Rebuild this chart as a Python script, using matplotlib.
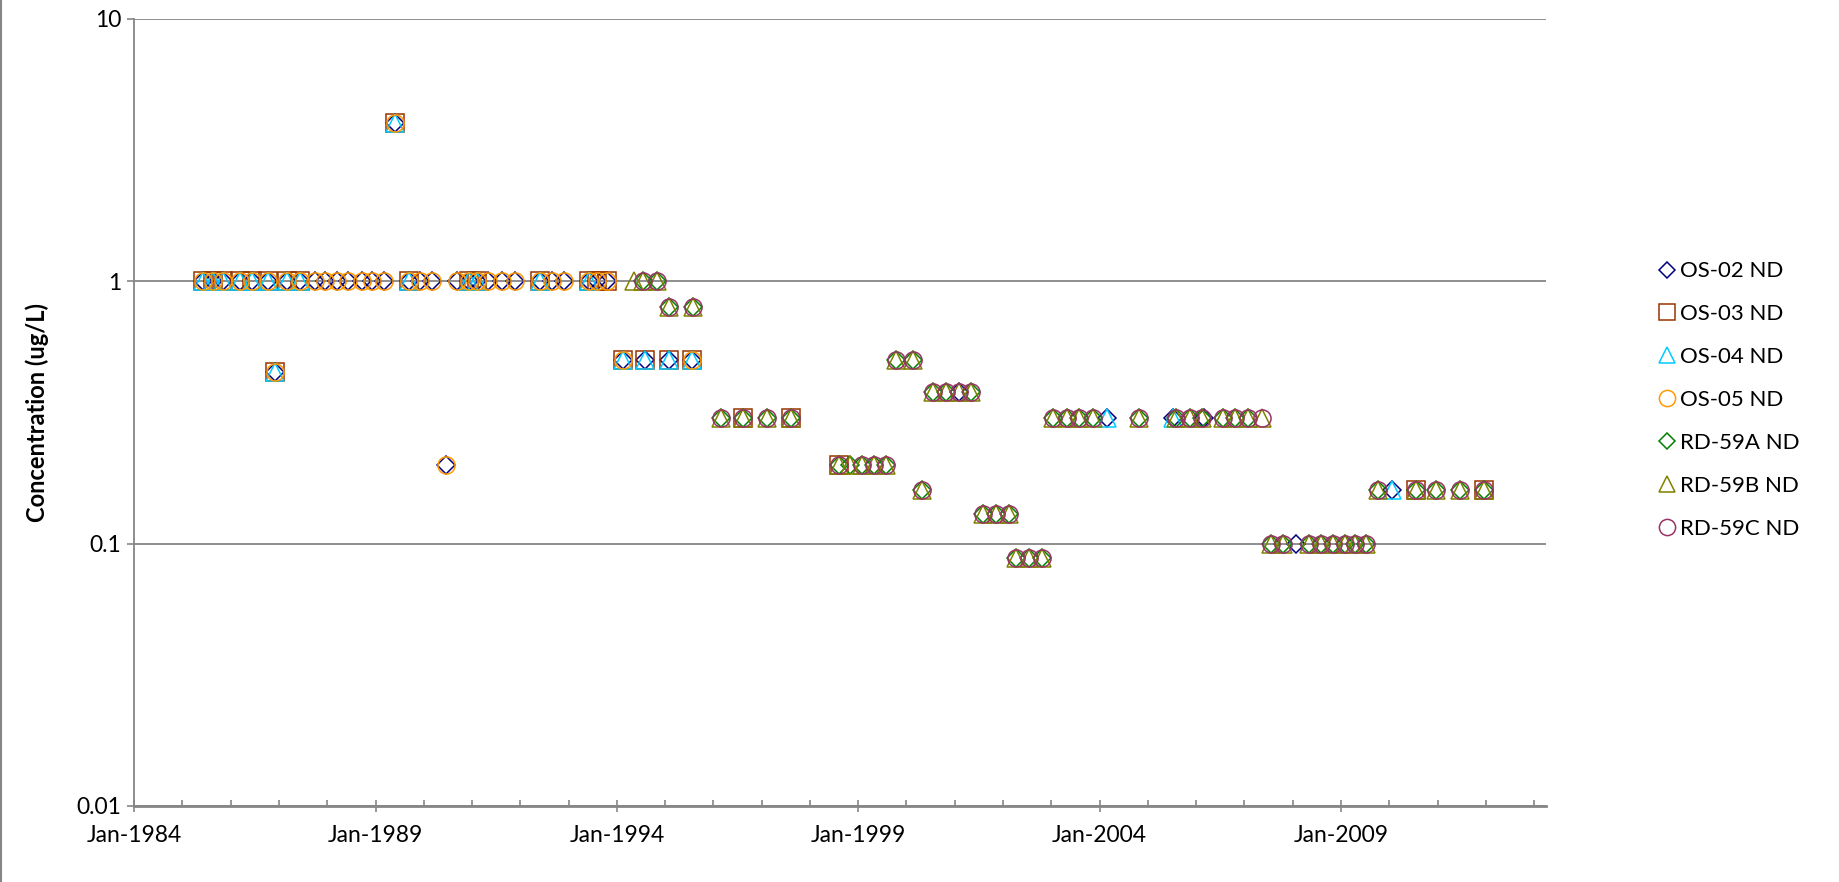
import matplotlib
matplotlib.use("Agg")
import matplotlib.pyplot as plt
import matplotlib.dates as mdates
import matplotlib.ticker as mticker
from matplotlib.lines import Line2D
import numpy as np

plt.rcParams['font.family'] = ['Lato', 'DejaVu Sans']

# ---------------- data ----------------
os_dates_1 = ["1985-06-02", "1985-08-22", "1985-11-06", "1986-03-14", "1986-06-10", "1986-10-12",
              "1987-03-03", "1987-06-10", "1987-10-01", "1987-12-16", "1988-03-13", "1988-06-09",
              "1988-09-19", "1988-12-05", "1989-03-03", "1989-09-09", "1989-12-06", "1990-03-03",
              "1990-09-09", "1990-12-06", "1991-02-06", "1991-05-04", "1991-08-14", "1991-11-24",
              "1992-05-26", "1992-08-29", "1992-11-24", "1993-06-02", "1993-08-03", "1993-10-19"]

os02_dates = os_dates_1 + ["1989-05-30", "1986-12-02", "1990-06-21",
                           "1994-02-14", "1994-08-03", "1995-01-30", "1995-07-27",
                           "2001-02-02", "2004-02-24", "2005-07-09", "2006-02-28",
                           "2008-01-26", "2010-01-19"]
os02_vals = [1.0] * 30 + [4.0, 0.45, 0.2, 0.5, 0.5, 0.5, 0.5, 0.38, 0.3, 0.3, 0.3, 0.1, 0.16]

os03_dates = ["1985-06-02", "1985-08-22", "1985-11-06", "1986-03-14", "1986-06-10", "1986-10-12",
              "1987-03-03", "1987-06-10", "1989-09-09", "1990-12-06", "1991-02-06", "1992-05-26",
              "1993-06-02", "1993-08-03", "1993-10-19",
              "1989-05-30", "1986-12-02",
              "1994-02-14", "1994-08-03", "1995-01-30", "1995-07-27",
              "1996-08-14", "1997-08-11", "1998-08-08", "2010-07-20", "2011-12-17"]
os03_vals = [1.0] * 15 + [4.0, 0.45, 0.5, 0.5, 0.5, 0.5, 0.3, 0.3, 0.2, 0.16, 0.16]

os04_dates = ["1985-06-02", "1985-08-22", "1985-11-06", "1986-03-14", "1986-06-10", "1986-10-12",
              "1987-03-03", "1987-06-10", "1989-09-09", "1990-12-06", "1991-02-06", "1992-05-26",
              "1993-06-02",
              "1989-05-30", "1986-12-02",
              "1994-02-14", "1994-08-03", "1995-01-30", "1995-07-27",
              "2004-02-24", "2005-07-09", "2010-01-19"]
os04_vals = [1.0] * 13 + [4.0, 0.45, 0.5, 0.5, 0.5, 0.5, 0.3, 0.3, 0.16]

os05_dates = os_dates_1 + ["1989-05-30", "1986-12-02", "1990-06-21", "1994-02-14", "1995-07-27"]
os05_vals = [1.0] * 30 + [4.0, 0.45, 0.2, 0.5, 0.5]

rd_dates = ["1994-05-08", "1994-07-16", "1994-10-30",
            "1995-01-30", "1995-07-30",
            "1996-03-02", "1996-08-14", "1997-02-06", "1997-08-11",
            "1998-08-08", "1998-11-03", "1999-01-30", "1999-04-27", "1999-07-28",
            "1999-10-16", "2000-02-20", "2000-04-30",
            "2000-07-23", "2000-10-26", "2001-02-02", "2001-05-01",
            "2001-08-04", "2001-11-10", "2002-02-17",
            "2002-04-10", "2002-07-17", "2002-10-23",
            "2003-01-15", "2003-04-27", "2003-07-31", "2003-11-10", "2004-10-23",
            "2005-08-04", "2005-11-17", "2006-02-17", "2006-07-20", "2006-10-19",
            "2007-01-30", "2007-05-12",
            "2007-07-19", "2007-10-19", "2008-05-05", "2008-08-04", "2008-11-03",
            "2009-02-03", "2009-04-20", "2009-07-09",
            "2009-10-09", "2010-07-20", "2010-12-17", "2011-06-18", "2011-12-17"]
rd_vals = [1.0, 1.0, 1.0,
           0.8, 0.8,
           0.3, 0.3, 0.3, 0.3,
           0.2, 0.2, 0.2, 0.2, 0.2,
           0.5, 0.5, 0.16,
           0.38, 0.38, 0.38, 0.38,
           0.13, 0.13, 0.13,
           0.088, 0.088, 0.088,
           0.3, 0.3, 0.3, 0.3, 0.3,
           0.3, 0.3, 0.3, 0.3, 0.3,
           0.3, 0.3,
           0.1, 0.1, 0.1, 0.1, 0.1,
           0.1, 0.1, 0.1,
           0.16, 0.16, 0.16, 0.16, 0.16]

rd59a_missing = ["1994-05-08", "2001-02-02", "2007-05-12"]
rd59c_missing = ["1994-05-08", "1998-11-03"]

y_ticks = [0.01, 0.1, 1, 10]
y_tick_labels = ["0.01", "0.1", "1", "10"]
x_major_years = [1984, 1989, 1994, 1999, 2004, 2009]


def pick(dates, vals, skip=()):
    keep = [(d, v) for d, v in zip(dates, vals) if d not in skip]
    return [d for d, _ in keep], [v for _, v in keep]


rd59a_dates, rd59a_vals = pick(rd_dates, rd_vals, rd59a_missing)
rd59c_dates, rd59c_vals = pick(rd_dates, rd_vals, rd59c_missing)

series = [
    ("OS-02 ND", os02_dates, os02_vals, "D", "#000080", 8.8),
    ("OS-03 ND", os03_dates, os03_vals, "s", "#993300", 12.5),
    ("OS-04 ND", os04_dates, os04_vals, "^", "#00CCFF", 12.5),
    ("OS-05 ND", os05_dates, os05_vals, "o", "#FF9900", 12.3),
    ("RD-59A ND", rd59a_dates, rd59a_vals, "D", "#008000", 8.8),
    ("RD-59B ND", rd_dates, rd_vals, "^", "#808000", 12.5),
    ("RD-59C ND", rd59c_dates, rd59c_vals, "o", "#993366", 12.3),
]

# ---------------- figure ----------------
fig = plt.figure(figsize=(18.39, 8.82), dpi=100)
ax = fig.add_axes([0.0729, 0.0862, 0.7678, 0.8923])

for label, d, v, m, c, ms in series:
    x = [np.datetime64(s) for s in d]
    ax.plot(x, v, linestyle="none", marker=m, markersize=ms, markerfacecolor="none",
            markeredgecolor=c, markeredgewidth=1.1, label=label)

ax.set_yscale("log")
ax.set_ylim(0.01, 10)
ax.set_xlim(np.datetime64("1984-01-01"), np.datetime64("2013-04-01"))

ax.yaxis.set_major_locator(mticker.FixedLocator(y_ticks))
ax.yaxis.set_major_formatter(mticker.FixedFormatter(y_tick_labels))
ax.yaxis.set_minor_locator(mticker.NullLocator())

major_ticks = mdates.date2num([np.datetime64(f"{y}-01-01") for y in x_major_years])
ax.xaxis.set_major_locator(mticker.FixedLocator(major_ticks))
ax.xaxis.set_minor_locator(mdates.YearLocator(1, month=1, day=1))
ax.xaxis.set_major_formatter(mdates.DateFormatter("%b-%Y"))

grey = "#868686"
ax.grid(True, axis="y", which="major", color=grey, linewidth=1.3)
ax.set_axisbelow(True)
for side in ["top", "right"]:
    ax.spines[side].set_visible(False)
ax.spines["left"].set_color(grey)
ax.spines["left"].set_linewidth(1.3)
ax.spines["bottom"].set_color(grey)
ax.spines["bottom"].set_linewidth(2)

ax.tick_params(axis="y", which="major", direction="out", length=5, color=grey, width=1.2,
               labelsize=16.5, pad=4)
ax.tick_params(axis="x", which="major", direction="inout", length=9, color=grey, width=1.2,
               labelsize=16.5, pad=9)
ax.tick_params(axis="x", which="minor", direction="in", length=4.5, color=grey, width=1.2)

ax.set_ylabel("Concentration (ug/L)", fontsize=17, fontweight="bold", labelpad=20)

fig.legend(loc="center left", bbox_to_anchor=(0.8905, 0.5465), frameon=False, fontsize=16,
           handlelength=0.8, handletextpad=0.2, labelspacing=1.03, numpoints=1,
           markerscale=0.95)

# chart area border on the left edge
fig.add_artist(Line2D([0.0008, 0.0008], [0, 1], transform=fig.transFigure, color=grey, linewidth=1.5))

fig.savefig("out.png", dpi=100)
